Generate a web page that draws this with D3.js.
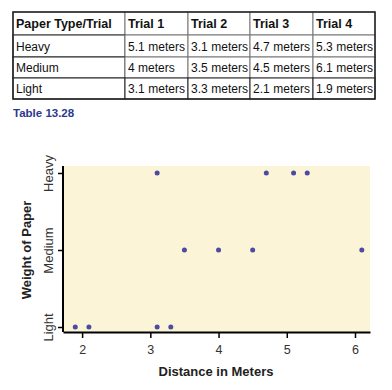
<!DOCTYPE html>
<html>
<head>
<meta charset="utf-8">
<script src="https://cdn.jsdelivr.net/npm/d3@7"></script>
<style>
  body { margin: 0; background: #fff; }
  svg { font-family: "Liberation Sans", Arial, sans-serif; }
</style>
</head>
<body>
<div id="chart"></div>
<script>
// table data
var headers = ["Paper Type/Trial", "Trial 1", "Trial 2", "Trial 3", "Trial 4"];
var paperTypes = ["Heavy", "Medium", "Light"];
var heavy = [5.1, 3.1, 4.7, 5.3];
var medium = [4, 3.5, 4.5, 6.1];
var light = [3.1, 3.3, 2.1, 1.9];
var xTicks = [2, 3, 4, 5, 6];

var distances = { Heavy: heavy, Medium: medium, Light: light };

var svg = d3.select("#chart").append("svg")
    .attr("width", 392)
    .attr("height", 390);

// ---- table ----
var colX = [13, 125, 188, 250, 313, 375];
var rowY = [12, 35, 57, 78, 99];

var table = svg.append("g").attr("class", "table");

var rows = [headers].concat(paperTypes.map(function(p) {
  return [p].concat(distances[p].map(function(v) { return v + " meters"; }));
}));

rows.forEach(function(row, i) {
  row.forEach(function(cell, j) {
    table.append("rect")
        .attr("x", colX[j])
        .attr("y", rowY[i])
        .attr("width", colX[j + 1] - colX[j])
        .attr("height", rowY[i + 1] - rowY[i])
        .attr("fill", "#fff")
        .attr("stroke", i == 0 || (i < 3 && j > 0) ? "#777" : "#222")
        .attr("stroke-width", 1);
    table.append("text")
        .attr("x", colX[j] + 3)
        .attr("y", (rowY[i] + rowY[i + 1]) / 2 + 4.5)
        .style("font-size", i == 0 ? "12.5px" : "12px")
        .style("font-weight", i == 0 ? "bold" : "normal")
        .attr("textLength", i > 0 && j > 0 && cell.length > 8 ? 57 : null)
        .attr("fill", "#111")
        .text(cell);
  });
});
table.append("rect")
    .attr("x", colX[0]).attr("y", rowY[0])
    .attr("width", colX[5] - colX[0]).attr("height", rowY[4] - rowY[0])
    .attr("fill", "none").attr("stroke", "#222").attr("stroke-width", 1.5);

svg.append("text")
    .attr("x", 13)
    .attr("y", 117)
    .style("font-size", "11.5px")
    .style("font-weight", "bold")
    .attr("fill", "#2b3a8c")
    .text("Table 13.28");

// ---- scatter plot ----
var plotLeft = 63, plotRight = 370, plotTop = 166, plotBottom = 332;

var x = d3.scaleLinear()
    .domain([1.72, 6.22])
    .range([plotLeft, plotRight]);

var y = d3.scalePoint()
    .domain(["Light", "Medium", "Heavy"])
    .range([327, 173]);

svg.append("rect")
    .attr("x", plotLeft)
    .attr("y", plotTop)
    .attr("width", plotRight - plotLeft)
    .attr("height", plotBottom - plotTop)
    .attr("fill", "#fcf4d6");

var xAxis = svg.append("g")
    .attr("transform", "translate(0," + plotBottom + ")")
    .style("font-family", "Liberation Sans, Arial, sans-serif")
    .style("font-size", "12.5px")
    .call(d3.axisBottom(x).tickValues(xTicks).tickFormat(d3.format("d"))
      .tickSize(6).tickPadding(7).tickSizeOuter(0));
xAxis.select(".domain").attr("stroke-width", 2);
xAxis.selectAll(".tick line").attr("stroke-width", 1.5);
xAxis.selectAll(".tick text").attr("fill", "#333");

var yAxis = svg.append("g")
    .attr("transform", "translate(" + plotLeft + ",0)")
    .style("font-family", "Liberation Sans, Arial, sans-serif")
    .style("font-size", "13px")
    .call(d3.axisLeft(y).tickSize(5).tickSizeOuter(0));
yAxis.select(".domain").attr("d", "M0," + plotTop + "V" + plotBottom).attr("stroke-width", 2);
yAxis.selectAll(".tick line").attr("stroke-width", 1.5);
yAxis.selectAll(".tick text")
    .attr("fill", "#333")
    .attr("x", null)
    .attr("dy", null)
    .attr("text-anchor", "middle")
    .attr("transform", "translate(-10,0) rotate(-90)");

// points
var points = [];
paperTypes.forEach(function(p) {
  distances[p].forEach(function(v) { points.push({ type: p, dist: v }); });
});

svg.selectAll(".dot")
    .data(points)
  .enter().append("circle")
    .attr("class", "dot")
    .attr("cx", function(d) { return x(d.dist); })
    .attr("cy", function(d) { return y(d.type); })
    .attr("r", 2.5)
    .attr("fill", "#4b4ba3");

// axis titles
svg.append("text")
    .attr("x", 216)
    .attr("y", 376)
    .attr("text-anchor", "middle")
    .style("font-size", "13px")
    .style("font-weight", "bold")
    .attr("fill", "#222")
    .text("Distance in Meters");

svg.append("text")
    .attr("transform", "translate(31,250) rotate(-90)")
    .attr("text-anchor", "middle")
    .style("font-size", "13px")
    .style("font-weight", "bold")
    .attr("fill", "#222")
    .text("Weight of Paper");
</script>
</body>
</html>
